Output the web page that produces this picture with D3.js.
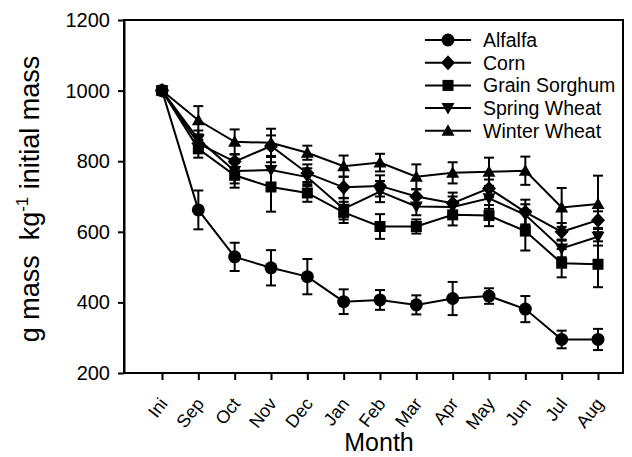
<!DOCTYPE html>
<html>
<head>
<meta charset="utf-8">
<script src="https://cdn.jsdelivr.net/npm/d3@7"></script>
<style>
  body { margin: 0; background: #fff; }
  text { font-family: "Liberation Sans", Arial, sans-serif; fill: #000; }
</style>
</head>
<body>
<div id="graphe"></div>
<script>
// données
var mois = ["Ini","Sep","Oct","Nov","Dec","Jan","Feb","Mar","Apr","May","Jun","Jul","Aug"];
var cultures = ["Alfalfa","Corn","Grain Sorghum","Spring Wheat","Winter Wheat"];
var symboles = ["circle","diamond","square","down","up"];

var alfalfa      = [1000, 662, 529, 498, 473, 402, 407, 393, 411, 418, 381, 295, 295];
var alfalfaErr   = [0, 55, 40, 50, 50, 35, 28, 27, 47, 22, 37, 25, 30];
var corn         = [1000, 850, 799, 843, 766, 726, 730, 700, 681, 723, 656, 600, 633];
var cornErr      = [0, 20, 20, 30, 25, 30, 30, 20, 30, 25, 35, 25, 25];
var sorghum      = [1000, 835, 760, 727, 710, 655, 615, 615, 648, 646, 602, 511, 508];
var sorghumErr   = [0, 25, 35, 70, 25, 30, 35, 20, 30, 30, 55, 40, 65];
var springWheat  = [1000, 862, 772, 775, 755, 665, 714, 672, 670, 695, 648, 553, 586];
var springErr    = [0, 25, 35, 40, 25, 30, 30, 25, 30, 30, 30, 25, 25];
var winterWheat  = [1000, 916, 855, 852, 824, 786, 796, 756, 767, 770, 773, 669, 679];
var winterErr    = [0, 40, 35, 40, 20, 30, 25, 35, 30, 40, 40, 55, 80];

var yTicks = [200, 400, 600, 800, 1000, 1200];

var series = [alfalfa, corn, sorghum, springWheat, winterWheat];
var erreurs = [alfalfaErr, cornErr, sorghumErr, springErr, winterErr];

//----------------------------------------------------------------
// svg
//----------------------------------------------------------------
var largeurSvg = 632, hauteurSvg = 457;
var cadre = {gauche: 124, droite: 623, haut: 20, bas: 373};

var svg = d3.select("#graphe").append("svg")
    .attr("width", largeurSvg)
    .attr("height", hauteurSvg);

var x = d3.scalePoint().domain(mois).range([162, 598]);
var y = d3.scaleLinear().domain([200, 1200]).range([cadre.bas, cadre.haut]);

// cadre
svg.append("rect")
    .attr("x", cadre.gauche).attr("y", cadre.haut)
    .attr("width", cadre.droite - cadre.gauche)
    .attr("height", cadre.bas - cadre.haut)
    .attr("fill", "none").attr("stroke", "#000").attr("stroke-width", 2);

// axes
var axeY = svg.append("g")
    .attr("transform", "translate(" + cadre.gauche + ",0)")
    .call(d3.axisLeft(y).tickValues(yTicks).tickFormat(d3.format("d"))
        .tickSize(6).tickSizeOuter(0).tickPadding(8));
axeY.select(".domain").attr("stroke-width", 2);
axeY.selectAll(".tick line").attr("stroke-width", 2);
axeY.selectAll("text").style("font-size", "20px");

var axeX = svg.append("g")
    .attr("transform", "translate(0," + cadre.bas + ")")
    .call(d3.axisBottom(x).tickSize(7).tickSizeOuter(0));
axeX.select(".domain").remove();
axeX.selectAll(".tick line").attr("stroke-width", 2);
axeX.selectAll("text")
    .style("font-size", "18px")
    .attr("text-anchor", "end")
    .attr("y", 0).attr("dy", 0)
    .attr("transform", "translate(6,31) rotate(-52)");

// titres
svg.append("text")
    .attr("x", 379).attr("y", 451)
    .attr("text-anchor", "middle")
    .style("font-size", "25px")
    .text("Month");

var titreY = svg.append("text")
    .attr("transform", "translate(39,199) rotate(-90)")
    .attr("text-anchor", "middle")
    .style("font-size", "27px");
titreY.append("tspan").text("g mass\u00a0\u00a0kg");
titreY.append("tspan").attr("dy", "-11").style("font-size", "17px").text("-1");
titreY.append("tspan").attr("dy", "11").text(" initial mass");

//----------------------------------------------------------------
// symboles
//----------------------------------------------------------------
function dessineSymbole(g, type, cx, cy) {
    switch (type) {
        case "circle":
            g.append("circle").attr("cx", cx).attr("cy", cy).attr("r", 6.5);
            break;
        case "diamond":
            g.append("path").attr("d", "M" + cx + "," + (cy - 7.5) + "L" + (cx + 7) + "," + cy +
                "L" + cx + "," + (cy + 7.5) + "L" + (cx - 7) + "," + cy + "Z");
            break;
        case "square":
            g.append("rect").attr("x", cx - 5.5).attr("y", cy - 5.5).attr("width", 11).attr("height", 11);
            break;
        case "down":
            g.append("path").attr("d", "M" + (cx - 6.5) + "," + (cy - 5) + "L" + (cx + 6.5) + "," + (cy - 5) +
                "L" + cx + "," + (cy + 6.5) + "Z");
            break;
        case "up":
            g.append("path").attr("d", "M" + (cx - 6.5) + "," + (cy + 5) + "L" + (cx + 6.5) + "," + (cy + 5) +
                "L" + cx + "," + (cy - 6.5) + "Z");
            break;
    }
}

var ligne = d3.line()
    .x(function(d, i) { return x(mois[i]); })
    .y(function(d) { return y(d); });

var traces = svg.append("g");

for (var k = series.length - 1; k >= 0; k--) {
    var g = traces.append("g").attr("fill", "#000").attr("stroke", "#000");
    var vals = series[k], err = erreurs[k];

    // barres d'erreur
    for (var i = 0; i < vals.length; i++) {
        if (err[i] == 0) continue;
        var cx = x(mois[i]), haut = y(vals[i] + err[i]), bas = y(vals[i] - err[i]);
        g.append("line").attr("x1", cx).attr("x2", cx).attr("y1", haut).attr("y2", bas).attr("stroke-width", 2);
        g.append("line").attr("x1", cx - 5).attr("x2", cx + 5).attr("y1", haut).attr("y2", haut).attr("stroke-width", 2);
        g.append("line").attr("x1", cx - 5).attr("x2", cx + 5).attr("y1", bas).attr("y2", bas).attr("stroke-width", 2);
    }

    g.append("path").datum(vals)
        .attr("d", ligne)
        .attr("fill", "none")
        .attr("stroke-width", 2);

    var gs = g.append("g").attr("stroke", "none");
    for (var i = 0; i < vals.length; i++) {
        dessineSymbole(gs, symboles[k], x(mois[i]), y(vals[i]));
    }
}

//----------------------------------------------------------------
// légende
//----------------------------------------------------------------
var legende = svg.append("g");
cultures.forEach(function(nom, k) {
    var ly = 40 + k * 22.7;
    legende.append("line")
        .attr("x1", 425).attr("x2", 471).attr("y1", ly).attr("y2", ly)
        .attr("stroke", "#000").attr("stroke-width", 2);
    dessineSymbole(legende.append("g").attr("fill", "#000"), symboles[k], 448, ly);
    legende.append("text")
        .attr("x", 483).attr("y", ly).attr("dy", "0.36em")
        .style("font-size", "19.5px")
        .text(nom);
});
</script>
</body>
</html>
